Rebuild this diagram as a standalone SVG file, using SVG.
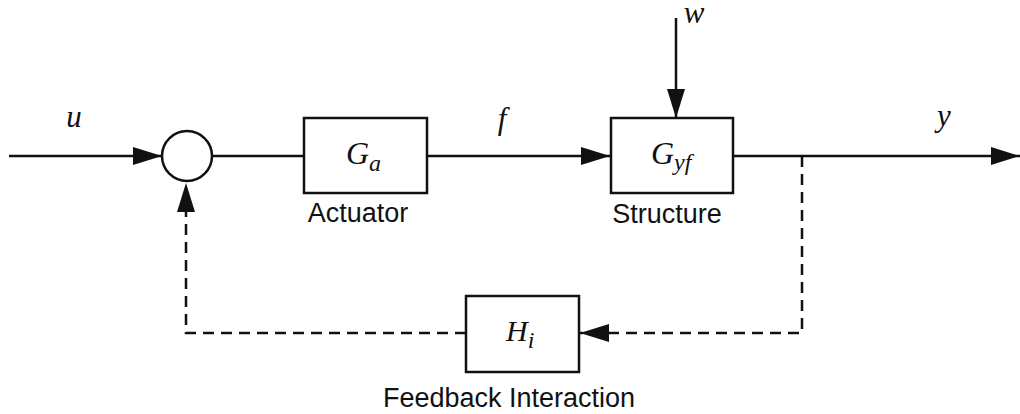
<svg xmlns="http://www.w3.org/2000/svg" width="1020" height="414" viewBox="0 0 1020 414">
<style>
.ln{fill:none;stroke:#111;stroke-width:2.5}
.dash{stroke-dasharray:11 7}
.box{fill:#fff;stroke:#111;stroke-width:2.5}
.m{font-family:"Liberation Serif","Times New Roman",serif;font-style:italic;fill:#111}
.s{font-family:"Liberation Sans",Arial,sans-serif;font-size:27px;fill:#111}
</style>
<defs>
<marker id="ah" markerUnits="userSpaceOnUse" markerWidth="30" markerHeight="20" refX="29" refY="9" orient="auto">
<path d="M0,0 L29,9 L0,18 Z" fill="#111"/>
</marker>
</defs>
<g id="connectors">
<path class="ln" d="M9,156 H162" marker-end="url(#ah)"/>
<path class="ln" d="M212,156 H304"/>
<path class="ln" d="M427,156 H610" marker-end="url(#ah)"/>
<path class="ln" d="M676,18 V118" marker-end="url(#ah)"/>
<path class="ln" d="M733,156 H1020" marker-end="url(#ah)"/>
<path class="ln dash" d="M802,156 V333 H580" marker-end="url(#ah)"/>
<path class="ln dash" d="M466,333 H186 V183" marker-end="url(#ah)"/>
</g>
<g id="labels">
<text class="m" x="74" y="127" font-size="31" text-anchor="middle">u</text>
<text class="m" x="502" y="129" font-size="31" text-anchor="middle">f</text>
<text class="m" x="694" y="23" font-size="31" text-anchor="middle">w</text>
<text class="m" x="944" y="126" font-size="31" text-anchor="middle">y</text>
</g>
<g id="sum">
<circle cx="187" cy="156" r="25" fill="#fff" stroke="#111" stroke-width="2.5"/>
</g>
<g id="actuator">
<rect class="box" x="304" y="118" width="123" height="75"/>
<text class="m" x="346" y="164" font-size="32">G<tspan font-size="24" dy="7">a</tspan></text>
<text class="s" x="358" y="222" text-anchor="middle">Actuator</text>
</g>
<g id="structure">
<rect class="box" x="611" y="118" width="122" height="75"/>
<text class="m" x="651" y="164" font-size="32">G<tspan font-size="24" dy="6">yf</tspan></text>
<text class="s" x="667" y="223" text-anchor="middle">Structure</text>
</g>
<g id="feedback">
<rect class="box" x="466" y="296" width="113" height="76"/>
<text class="m" x="506" y="341" font-size="30">H<tspan font-size="24" dy="7">i</tspan></text>
<text class="s" x="509" y="407" text-anchor="middle">Feedback Interaction</text>
</g>
</svg>
